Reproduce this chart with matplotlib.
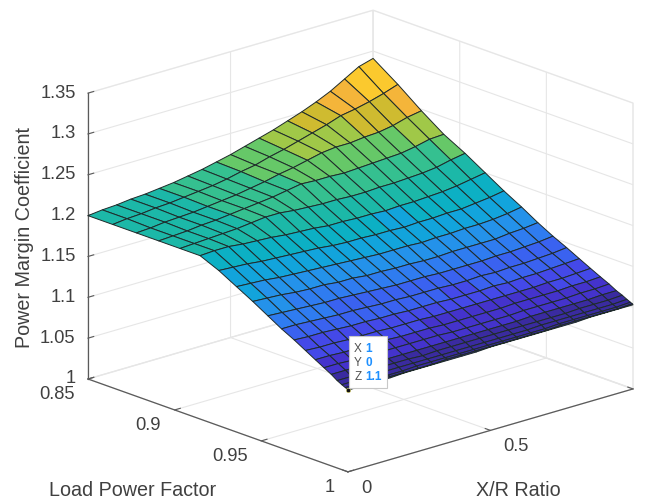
import numpy as np
import matplotlib
matplotlib.use("Agg")
import matplotlib.pyplot as plt
from matplotlib.colors import ListedColormap
from matplotlib.patches import Rectangle
from mpl_toolkits.mplot3d import proj3d

plt.rcParams['font.family'] = ['Liberation Sans', 'DejaVu Sans']

x_label = "Load Power Factor"
y_label = "X/R Ratio"
z_label = "Power Margin Coefficient"
pf_ticks = [0.85, 0.9, 0.95, 1]
xr_ticks = [0, 0.5, 1]
z_ticks = [1, 1.05, 1.1, 1.15, 1.2, 1.25, 1.3, 1.35]
z_tick_labels = ["1", "1.05", "1.1", "1.15", "1.2", "1.25", "1.3", "1.35"]

load_pf = [.85, .8643, .8779, .8908, .9031, .9147, .9255, .9357, .9451, .9538, .9617,
           .9690, .9755, .9812, .9862, .9904, .9938, .9965, .9985, .9996, 1]
xr_ratio = [0, .05, .1, .15, .2, .25, .3, .35, .4, .45, .5, .55, .6, .65, .7, .75, .8, .85, .9, .95, 1]
margin = [
 [1.200,1.202,1.203,1.205,1.206,1.208,1.210,1.213,1.216,1.220,1.224,1.229,1.234,1.239,1.245,1.251,1.258,1.266,1.276,1.286,1.291],
 [1.200,1.202,1.203,1.205,1.206,1.208,1.210,1.212,1.215,1.219,1.222,1.227,1.231,1.236,1.241,1.246,1.252,1.255,1.259,1.264,1.270],
 [1.200,1.201,1.203,1.204,1.205,1.207,1.209,1.211,1.214,1.217,1.221,1.224,1.228,1.232,1.234,1.234,1.236,1.237,1.240,1.245,1.248],
 [1.200,1.201,1.202,1.204,1.205,1.207,1.209,1.211,1.213,1.216,1.219,1.218,1.218,1.217,1.218,1.219,1.220,1.221,1.224,1.228,1.229],
 [1.200,1.201,1.202,1.203,1.204,1.206,1.208,1.208,1.206,1.205,1.204,1.204,1.203,1.203,1.204,1.204,1.205,1.206,1.208,1.212,1.215],
 [1.200,1.201,1.201,1.199,1.198,1.197,1.195,1.194,1.193,1.191,1.191,1.190,1.190,1.189,1.190,1.190,1.191,1.192,1.194,1.197,1.200],
 [1.190,1.189,1.188,1.186,1.185,1.184,1.183,1.182,1.180,1.179,1.179,1.178,1.178,1.177,1.178,1.178,1.179,1.179,1.181,1.183,1.186],
 [1.178,1.177,1.176,1.174,1.173,1.172,1.171,1.170,1.169,1.168,1.167,1.167,1.167,1.166,1.167,1.167,1.168,1.168,1.169,1.171,1.174],
 [1.167,1.166,1.165,1.163,1.162,1.162,1.160,1.160,1.158,1.158,1.157,1.157,1.156,1.156,1.157,1.157,1.157,1.157,1.159,1.160,1.162],
 [1.156,1.155,1.154,1.153,1.152,1.152,1.151,1.150,1.149,1.148,1.148,1.148,1.147,1.147,1.147,1.147,1.148,1.148,1.149,1.150,1.152],
 [1.146,1.146,1.145,1.144,1.143,1.143,1.142,1.141,1.141,1.140,1.140,1.140,1.139,1.139,1.140,1.139,1.140,1.140,1.141,1.142,1.144],
 [1.138,1.137,1.137,1.136,1.135,1.135,1.134,1.134,1.133,1.133,1.133,1.132,1.132,1.132,1.133,1.132,1.133,1.133,1.134,1.135,1.136],
 [1.130,1.129,1.129,1.128,1.128,1.128,1.127,1.127,1.127,1.126,1.126,1.126,1.126,1.126,1.126,1.126,1.126,1.127,1.127,1.128,1.129],
 [1.123,1.123,1.122,1.122,1.122,1.122,1.121,1.121,1.121,1.120,1.120,1.120,1.120,1.120,1.121,1.121,1.121,1.121,1.122,1.122,1.123],
 [1.117,1.117,1.116,1.116,1.116,1.116,1.116,1.116,1.116,1.115,1.115,1.115,1.115,1.115,1.116,1.116,1.116,1.116,1.117,1.117,1.118],
 [1.112,1.112,1.112,1.111,1.111,1.111,1.111,1.111,1.111,1.111,1.111,1.111,1.111,1.111,1.112,1.112,1.112,1.112,1.112,1.113,1.113],
 [1.107,1.107,1.107,1.108,1.108,1.108,1.107,1.108,1.108,1.108,1.108,1.108,1.108,1.108,1.108,1.108,1.108,1.109,1.109,1.109,1.110],
 [1.104,1.104,1.104,1.105,1.105,1.105,1.105,1.105,1.105,1.105,1.105,1.105,1.105,1.105,1.106,1.106,1.106,1.106,1.106,1.106,1.107],
 [1.102,1.102,1.102,1.102,1.102,1.103,1.103,1.103,1.103,1.103,1.103,1.103,1.103,1.103,1.103,1.104,1.104,1.104,1.104,1.104,1.105],
 [1.101,1.101,1.101,1.101,1.101,1.101,1.101,1.102,1.102,1.102,1.102,1.102,1.102,1.102,1.102,1.103,1.103,1.103,1.103,1.103,1.104],
 [1.100,1.100,1.100,1.100,1.101,1.101,1.101,1.101,1.101,1.101,1.102,1.102,1.102,1.102,1.102,1.102,1.102,1.103,1.103,1.103,1.103],
]
parula16 = ["#3a2ba0", "#4433cc", "#4449e8", "#3a62f0", "#2f7cf0", "#2492ea", "#12a4dc", "#0cb0c4",
            "#1cb8a8", "#35c090", "#66c868", "#a0c848", "#cfbb30", "#f4b53a", "#fbc92e", "#fbdf22"]
tip_x, tip_y, tip_z = 1, 0, 1.1

W, H = 646, 500
fig = plt.figure(figsize=(W/100, H/100), dpi=100, facecolor="white")
ax = fig.add_axes([0.05, 0.0, 0.95, 1.0], projection="3d", proj_type="ortho", computed_zorder=False)
ax.patch.set_alpha(0)
ax.view_init(elev=18.8, azim=-42.06)
ax.set_box_aspect((388, 384, 302))

X, Y = np.meshgrid(load_pf, xr_ratio, indexing="ij")
Z = np.array(margin)
ax.plot_surface(X, Y, Z, rcount=Z.shape[0], ccount=Z.shape[1], cmap=ListedColormap(parula16),
                vmin=Z.min(), vmax=Z.max(), shade=False, edgecolor="#1e2a2a", linewidth=0.7,
                antialiased=True, zorder=1)
ax.plot([tip_x], [tip_y], [tip_z], "o", ms=3.2, mfc="#111111", mec="#e8e27a", mew=0.4, zorder=5, clip_on=False)

ax.set_xlim(0.85, 1); ax.set_ylim(0, 1); ax.set_zlim(1, 1.35)
ax.set_xticks(pf_ticks); ax.set_xticklabels([str(v) for v in pf_ticks], ha="right")
ax.set_yticks(xr_ticks); ax.set_yticklabels([str(v) for v in xr_ticks], ha="left")
ax.set_zticks(z_ticks); ax.set_zticklabels(z_tick_labels, ha="right", va="center")
ax.zaxis.set_ticks_position("lower")
for a in (ax.xaxis, ax.yaxis, ax.zaxis):
    a.pane.set_facecolor((1, 1, 1, 0))
    a.pane.set_edgecolor("#e4e4e4")
    a.line.set_color("#5a5a5a"); a.line.set_linewidth(0.9)
    a._axinfo["grid"].update(color="#e6e6e6", linewidth=0.8)
    a._axinfo["tick"].update(inward_factor=0.0, outward_factor=0.25)
ax.tick_params(colors="#404040", labelsize=13.2, width=0.7, length=3, color="#5a5a5a")
ax.tick_params(axis="x", pad=-2); ax.tick_params(axis="y", pad=-2); ax.tick_params(axis="z", pad=-7)

def nudge(axis, dx, dy):
    # mplot3d sets each tick label's position on every draw, so shift it there (pixels, y down)
    for tick in axis.get_major_ticks():
        label = tick.label1
        orig = label.set_position
        def shifted(xy, orig=orig):
            px = ax.transData.transform(xy) + np.array([dx, -dy])
            orig(tuple(ax.transData.inverted().transform(px)))
        label.set_position = shifted

def to_px(p):
    xs, ys, _ = proj3d.proj_transform(p[0], p[1], p[2], ax.get_proj())
    return np.array(ax.transData.transform((xs, ys)))

# fit the axes box so that its corners land where the reference puts them
for _ in range(4):
    fig.canvas.draw()
    a = to_px((0.85, 0, 1)); b = to_px((1, 1, 1))
    s = 545 / (b[0] - a[0])
    pos = ax.get_position()
    ax.set_position([pos.x0, pos.y0, pos.width * s, pos.height * s])
    fig.canvas.draw()
    a = to_px((0.85, 0, 1))
    dx, dy = (88 - a[0]) / W, ((H - 379) - a[1]) / H
    pos = ax.get_position()
    ax.set_position([pos.x0 + dx, pos.y0 + dy, pos.width, pos.height])

nudge(ax.xaxis, -6, -3)
nudge(ax.yaxis, 6, -2)
nudge(ax.zaxis, -10, 0)

txt = "#404040"
fig.text(133/W, 1 - 490/H, x_label, ha="center", va="center", fontsize=14.2, color=txt)
fig.text(518/W, 1 - 491/H, y_label, ha="center", va="center", fontsize=14.2, color=txt)
fig.text(25/W, 1 - 238/H, z_label, ha="center", va="center", rotation=90, fontsize=14.2, color=txt)

fig.add_artist(Rectangle((349/W, 1 - 388/H), 38/W, 52/H, transform=fig.transFigure, fc="white",
                         ec="#c8c8c8", lw=0.8, zorder=6))
for n, v, py in zip("XYZ", [tip_x, tip_y, tip_z], [349, 363, 377]):
    yy = 1 - py / H
    fig.text(358/W, yy, n, fontsize=8.5, color="#505050", ha="center", va="center", zorder=7)
    fig.text(365.5/W, yy, str(v), fontsize=8.5, color="#1e90ff", weight="bold", va="center", zorder=7)

fig.savefig("out.png", dpi=100)
